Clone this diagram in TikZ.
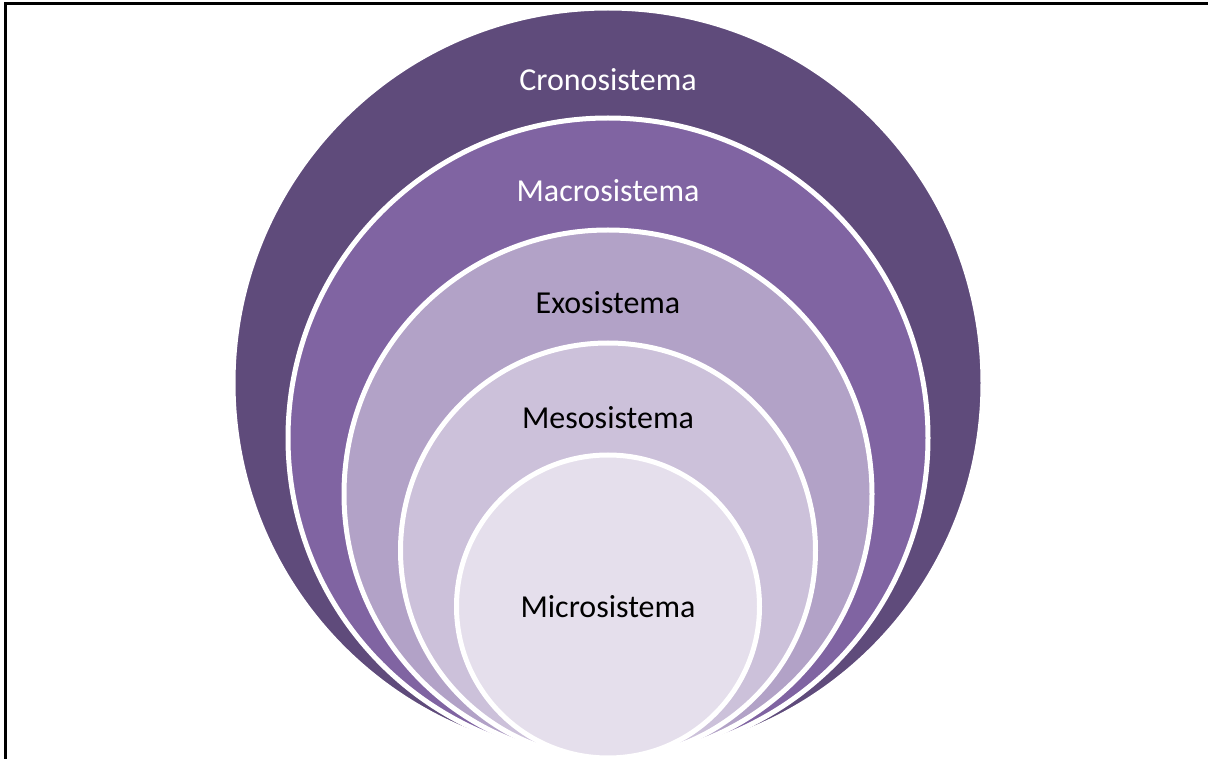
\documentclass[tikz,border=0pt]{standalone}
\usepackage{fontspec}
\setmainfont{Carlito}
\usetikzlibrary{positioning}
\definecolor{cronoc}{HTML}{5F4B7B}
\definecolor{macroc}{HTML}{8064A2}
\definecolor{exoc}{HTML}{B2A2C7}
\definecolor{mesoc}{HTML}{CCC1DA}
\definecolor{microc}{HTML}{E5DFEC}
\begin{document}
\begin{tikzpicture}[
  x=0.1mm, y=-0.1mm,
  font=\fontsize{9.1}{10.5}\selectfont,
  ring/.style={circle, draw=white, line width=0.5mm, inner sep=0pt, outer sep=0pt},
  lab/.style={inner sep=0pt, anchor=center},
]
\useasboundingbox (0,0) rectangle (1208,759);

% ---------- frame (left and top only) ----------
\coordinate (fbl) at (5.5,759);
\coordinate (ftl) at (5.5,4);
\coordinate (ftr) at (1208,4);
\draw[line width=0.3mm] (fbl) -- (ftl) -- (ftr);

% ---------- nested circles, all touching at the bottom ----------
\node[ring, fill=cronoc, minimum size=75mm]   (crono) at (608,383) {};
\node[ring, fill=macroc, minimum size=64mm]   (macro) at (608,438) {};
\node[ring, fill=exoc,   minimum size=52.8mm] (exo)   at (608,494) {};
\node[ring, fill=mesoc,  minimum size=41.5mm] (meso)  at (608,550.5) {};
\node[ring, fill=microc, minimum size=30.3mm] (micro) at (608,606.5) {};

% ---------- labels ----------
\node[lab, white] (tcrono) at (608,80)  {Cronosistema};
\node[lab, white] (tmacro) at (608,191) {Macrosistema};
\node[lab]        (texo)   at (608,303) {Exosistema};
\node[lab]        (tmeso)  at (608,418) {Mesosistema};
\node[lab]        (tmicro) at (608,607) {Microsistema};

\end{tikzpicture}
\end{document}
